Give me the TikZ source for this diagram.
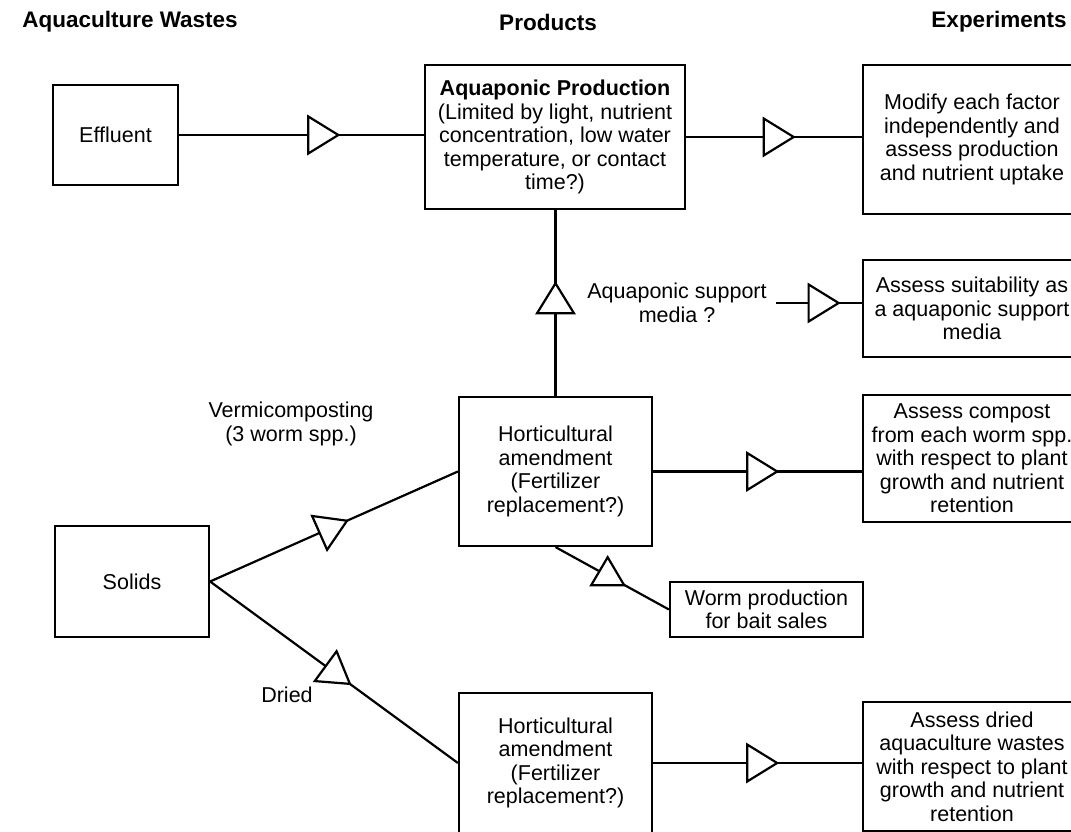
\documentclass[tikz,border=0pt]{standalone}
\usepackage{fontspec}
\setmainfont{Liberation Sans}
\usetikzlibrary{shapes.geometric}
\newcommand{\bodyfont}{\fontsize{21.5}{23.5}\selectfont}
\newcommand{\headfont}{\fontsize{22.5}{26}\selectfont\bfseries}
\begin{document}
\begin{tikzpicture}[x=1pt,y=-1pt,line width=2.2pt,
  box/.style={draw,rectangle,align=center,font=\bodyfont,inner sep=0pt},
  lbl/.style={align=center,font=\bodyfont},
  head/.style={font=\headfont},
  tri/.style={draw,fill=white,isosceles triangle,isosceles triangle stretches,
    inner sep=0pt,minimum width=37pt,minimum height=30pt,sloped,allow upside down},
  triup/.style={draw,fill=white,isosceles triangle,isosceles triangle stretches,
    inner sep=0pt,minimum width=33pt,minimum height=28pt,rotate=90}]
  \useasboundingbox (0,0) rectangle (1071,832);
  % column titles
  \node[head] (tw) at (130,22) {Aquaculture Wastes};
  \node[head] (tp) at (548,22) {Products};
  \node[head] (te) at (999,22) {Experiments};
  % wastes
  \node[box,minimum width=125pt,minimum height=100pt] (eff) at (115.5,135) {Effluent};
  \node[box,minimum width=154pt,minimum height=111pt] (sol) at (132,581.5) {Solids};
  % products
  \node[box,minimum width=260pt,minimum height=144pt] (aqp) at (555,137)
    {\textbf{Aquaponic Production}\\(Limited by light, nutrient\\concentration, low water\\temperature, or contact\\time?)};
  \node[box,minimum width=193pt,minimum height=149pt] (hort) at (555.5,471.5)
    {Horticultural\\amendment\\(Fertilizer\\replacement?)};
  \node[box,minimum width=193pt,minimum height=140pt] (hortd) at (555.5,763)
    {Horticultural\\amendment\\(Fertilizer\\replacement?)};
  \node[box,minimum width=193pt,minimum height=55pt] (worm) at (766.5,609.5)
    {Worm production\\for bait sales};
  % experiments
  \node[box,minimum width=218pt,minimum height=149pt] (exa) at (972,139.5)
    {Modify each factor\\independently and\\assess production\\and nutrient uptake};
  \node[box,minimum width=218pt,minimum height=97pt] (exb) at (972,308.5)
    {Assess suitability as\\a aquaponic support\\media};
  \node[box,minimum width=218pt,minimum height=127pt] (exc) at (972,458.5)
    {Assess compost\\from each worm spp.\\with respect to plant\\growth and nutrient\\retention};
  \node[box,minimum width=218pt,minimum height=129pt] (exd) at (972,766.5)
    {Assess dried\\aquaculture wastes\\with respect to plant\\growth and nutrient\\retention};
  % labels
  \node[lbl] (lsm) at (677,303) {Aquaponic support\\media ?};
  \node[lbl] (lvc) at (291,424) {Vermicomposting\\(3 worm spp.)};
  \node[lbl] (ldr) at (287,695) {Dried};
  \coordinate (sm) at (776,303);
  % flows
  \draw (eff.east) -- node[tri,pos=0.57]{} (eff.east -| aqp.west);
  \draw (aqp.east) -- node[tri,pos=0.5]{} (aqp.east -| exa.west);
  \draw (hort.north) -- node[tri,pos=0.5]{} (hort.north |- aqp.south);
  \draw (sm) -- node[tri,pos=0.5]{} (sm -| exb.west);
  \draw (hort.east) -- node[tri,pos=0.5]{} (hort.east -| exc.west);
  \draw (hort.south) -- node[triup,pos=0.46]{} (worm.west);
  \draw (sol.east) -- node[tri,pos=0.48]{} (hort.west);
  \draw (sol.east) -- node[tri,pos=0.5]{} (hortd.west);
  \draw (hortd.east) -- node[tri,pos=0.5]{} (hortd.east -| exd.west);
\end{tikzpicture}
\end{document}
